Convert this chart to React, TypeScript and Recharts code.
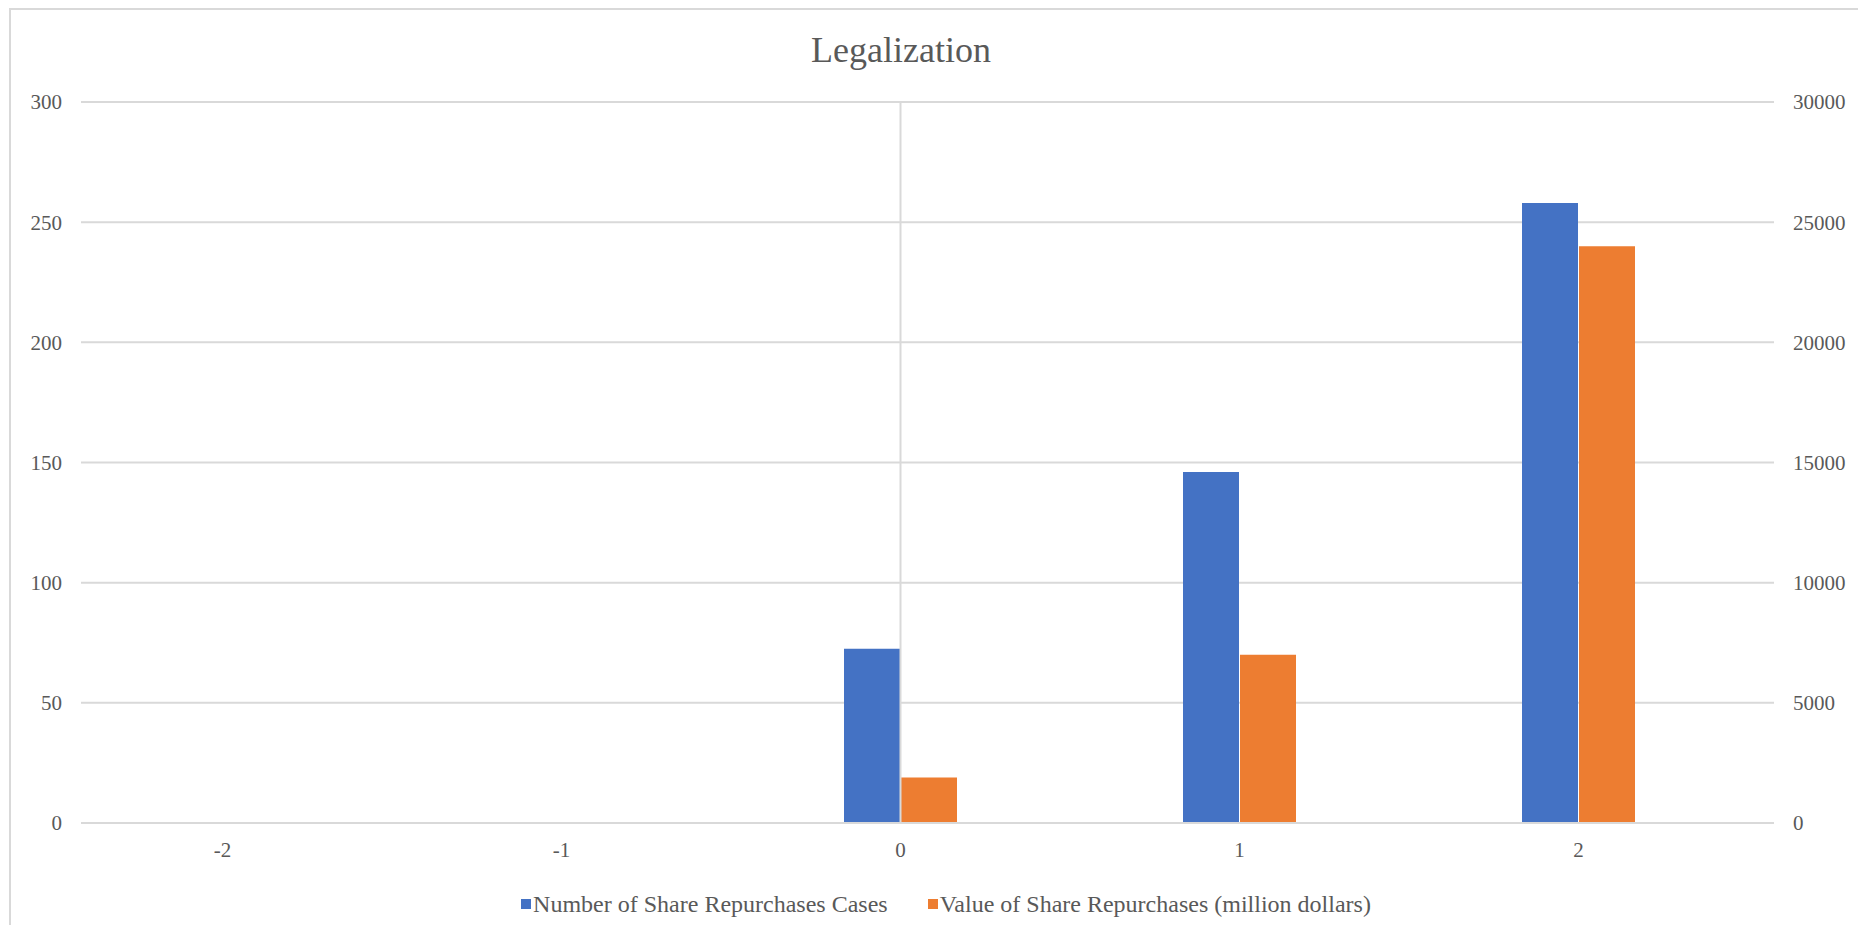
import React from 'react';
import {
  BarChart,
  Bar,
  XAxis,
  YAxis,
  CartesianGrid,
  ReferenceLine,
  Legend,
} from 'recharts';

// years relative to legalization
const categories = ['-2', '-1', '0', '1', '2'];
const repurchaseCases = [0, 0, 72.5, 146, 258];
const repurchaseValue = [0, 0, 1890, 7000, 24000];

const leftTicks = [0, 50, 100, 150, 200, 250, 300];
const rightTicks = [0, 5000, 10000, 15000, 20000, 25000, 30000];

const CASES_LABEL = 'Number of Share Repurchases Cases';
const VALUE_LABEL = 'Value of Share Repurchases (million dollars)';

const BLUE = '#4472C4';
const ORANGE = '#ED7D31';
const GRID = '#d9d9d9';
const TEXT = '#595959';
const FONT = '"Liberation Serif", "Times New Roman", serif';

const chartData = categories.map((year, i) => ({
  year,
  cases: repurchaseCases[i],
  value: repurchaseValue[i],
}));

function LegendBox() {
  const items = [
    { label: CASES_LABEL, color: BLUE },
    { label: VALUE_LABEL, color: ORANGE },
  ];
  return (
    <div
      style={{
        display: 'flex',
        justifyContent: 'center',
        alignItems: 'center',
        gap: 40,
        height: 30,
        fontFamily: FONT,
        fontSize: 24,
        color: TEXT,
        paddingLeft: 26,
      }}
    >
      {items.map((it) => (
        <div key={it.label} style={{ display: 'flex', alignItems: 'center' }}>
          <span
            style={{
              display: 'inline-block',
              width: 10,
              height: 10,
              background: it.color,
              marginRight: 2,
            }}
          />
          <span>{it.label}</span>
        </div>
      ))}
    </div>
  );
}

export default function App() {
  return (
    <div
      style={{
        position: 'relative',
        width: 1866,
        height: 933,
        margin: -8,
        background: '#fff',
        overflow: 'hidden',
        fontFamily: FONT,
      }}
    >
      <div
        style={{
          position: 'absolute',
          left: 9,
          top: 8,
          width: 1850,
          height: 940,
          border: `2px solid ${GRID}`,
        }}
      />
      <div
        style={{
          position: 'absolute',
          top: 29,
          left: 0,
          width: 1802,
          textAlign: 'center',
          fontSize: 36,
          color: TEXT,
        }}
      >
        Legalization
      </div>
      <BarChart
        width={1866}
        height={933}
        data={chartData}
        margin={{ top: 102, right: 0, left: 0, bottom: 30 }}
        barSize={56}
        barGap={1}
        style={{ position: 'absolute', top: 0, left: 0 }}
      >
        <CartesianGrid
          yAxisId="left"
          vertical={false}
          stroke={GRID}
          strokeWidth={2}
        />
        <XAxis
          dataKey="year"
          height={50}
          padding={{ left: -28, right: 26 }}
          axisLine={{ stroke: GRID, strokeWidth: 2 }}
          tickLine={false}
          tickMargin={13}
          tick={{ fill: TEXT, fontSize: 21, fontFamily: FONT }}
        />
        <YAxis
          yAxisId="left"
          orientation="left"
          width={81}
          domain={[0, 300]}
          ticks={leftTicks}
          axisLine={false}
          tickLine={false}
          tickMargin={13}
          tick={{ fill: TEXT, fontSize: 21, fontFamily: FONT }}
        />
        <YAxis
          yAxisId="right"
          orientation="right"
          width={92}
          domain={[0, 30000]}
          ticks={rightTicks}
          axisLine={false}
          tickLine={false}
          tickMargin={13}
          tick={{ fill: TEXT, fontSize: 21, fontFamily: FONT, textAnchor: 'start' }}
        />
        <ReferenceLine
          x="0"
          yAxisId="left"
          stroke={GRID}
          strokeWidth={2}
        />
        <Bar
          yAxisId="left"
          dataKey="cases"
          name={CASES_LABEL}
          fill={BLUE}
          isAnimationActive={false}
        />
        <Bar
          yAxisId="right"
          dataKey="value"
          name={VALUE_LABEL}
          fill={ORANGE}
          isAnimationActive={false}
        />
        <Legend
          content={() => <LegendBox />}
          wrapperStyle={{ top: 889, left: 0, width: 1866, height: 30 }}
        />
      </BarChart>
    </div>
  );
}
